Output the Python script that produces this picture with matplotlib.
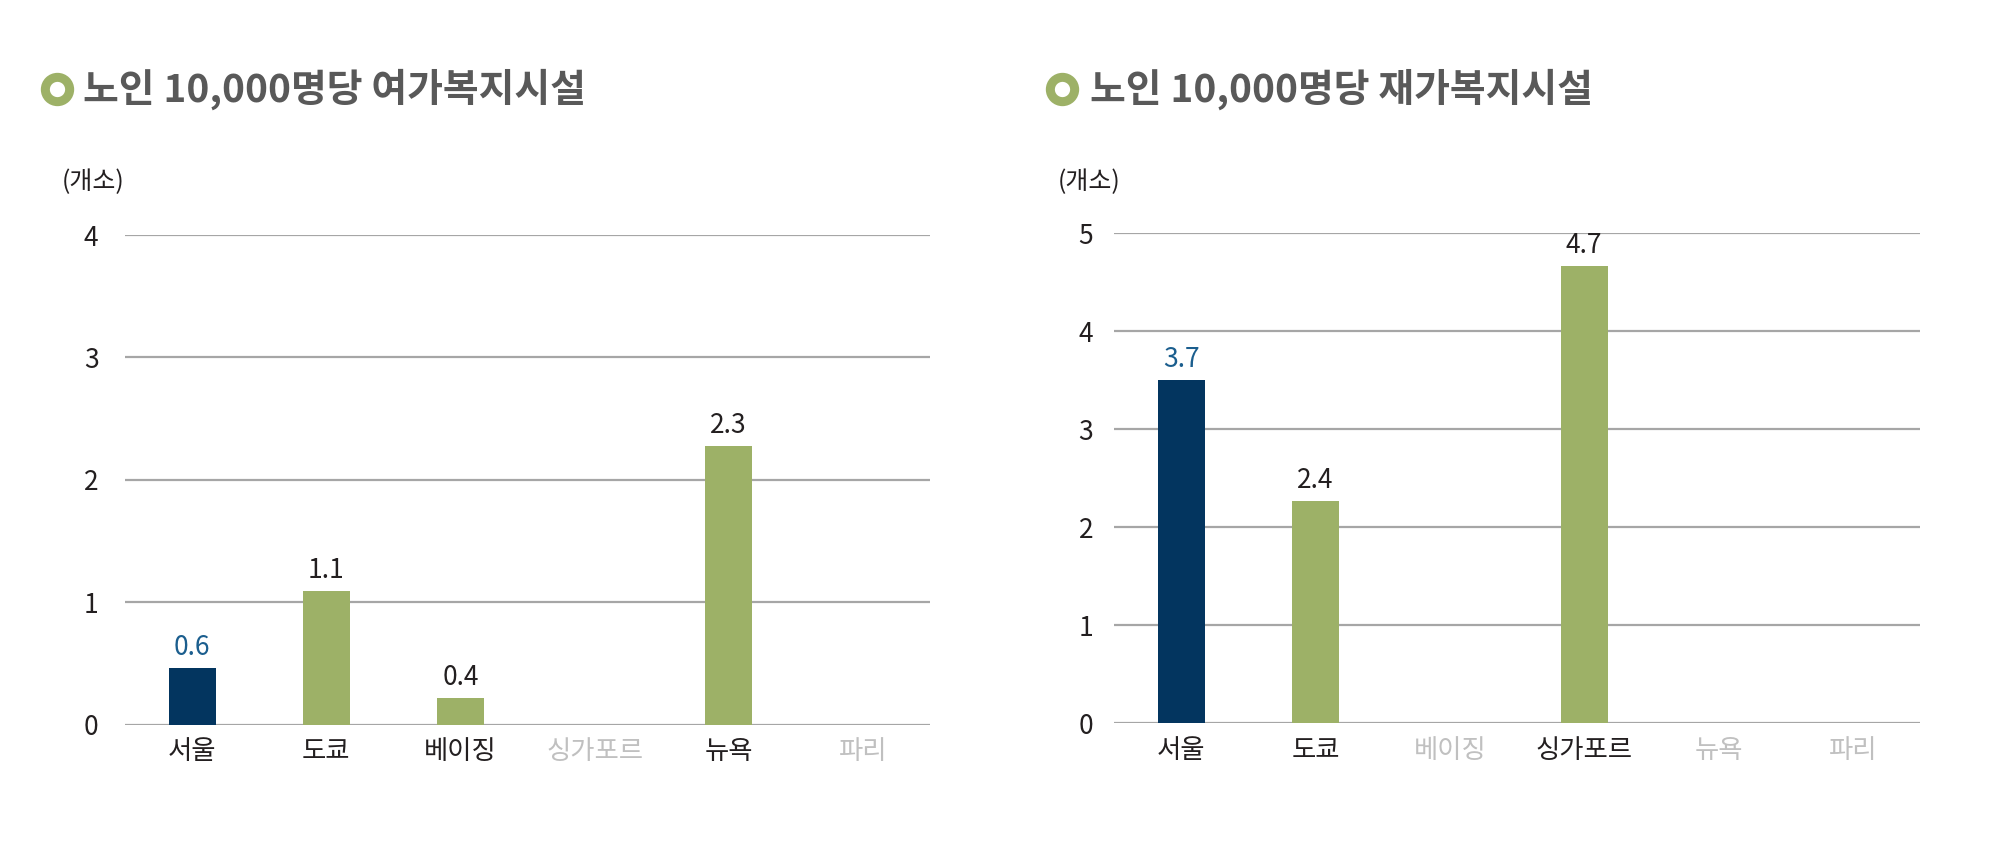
import matplotlib.pyplot as plt
from matplotlib.lines import Line2D

plt.rcParams['font.family'] = ['Noto Sans CJK KR', 'DejaVu Sans']

# data
cities = ['서울', '도쿄', '베이징', '싱가포르', '뉴욕', '파리']

day_vals = [0.46, 1.09, 0.22, 0, 2.28, 0]          # bar heights as drawn
day_labels = ['0.6', '1.1', '0.4', '', '2.3', '']   # printed values
day_has = [True, True, True, False, True, False]

stay_vals = [3.5, 2.27, 0, 4.67, 0, 0]
stay_labels = ['3.7', '2.4', '', '4.7', '', '']
stay_has = [True, True, False, True, False, False]

NAVY = '#03355f'
GREEN = '#9db167'
LBLUE = '#1b5e8e'
GRID = '#a6a6a6'
DARK = '#231f20'
LIGHT = '#c0c0c0'
TITLE = '#595959'

fig = plt.figure(figsize=(20, 8.41), dpi=100)


def panel(rect, vals, labels, has, ymax, title, bullet_x, title_x, unit_x, tick_pad):
    ax = fig.add_axes(rect)
    x = range(len(cities))
    colors = [NAVY if i == 0 else GREEN for i in x]
    ax.bar(x, vals, width=0.35, color=colors, zorder=3)
    for i, (v, lab) in enumerate(zip(vals, labels)):
        if lab:
            ax.annotate(lab, (i, v), xytext=(0, 5), textcoords='offset points',
                        ha='center', va='bottom', fontsize=19,
                        color=LBLUE if i == 0 else DARK)
    ax.set_xlim(-0.5, len(cities) - 0.5)
    ax.set_ylim(0, ymax)
    ax.set_yticks(range(ymax + 1))
    for y in range(ymax + 1):
        ax.axhline(y, color=GRID, lw=1.6, zorder=1)
    for s in ax.spines.values():
        s.set_visible(False)
    ax.set_xticks(list(x))
    ax.set_xticklabels(cities, fontsize=19)
    for t, h in zip(ax.get_xticklabels(), has):
        t.set_color(DARK if h else LIGHT)
    ax.tick_params(axis='x', length=0, pad=10)
    ax.tick_params(axis='y', length=0, pad=tick_pad, labelsize=19, labelcolor=DARK)

    # title with ring bullet
    fig.add_artist(Line2D([bullet_x], [0.894], transform=fig.transFigure,
                          marker='o', markersize=17.5, markeredgewidth=6.5,
                          markerfacecolor='white', markeredgecolor=GREEN,
                          linestyle='none'))
    fig.text(title_x, 0.894, title, fontsize=28, fontweight='bold',
             color=TITLE, va='center', ha='left')
    fig.text(unit_x, 0.783, '(개소)', fontsize=18, color=DARK, va='center', ha='left')
    return ax


panel([0.0625, 0.1385, 0.4025, 0.582], day_vals, day_labels, day_has, 4,
      '노인 10,000명당 여가복지시설', 0.0287, 0.0415, 0.031, 19)
panel([0.557, 0.140, 0.403, 0.5826], stay_vals, stay_labels, stay_has, 5,
      '노인 10,000명당 재가복지시설', 0.531, 0.545, 0.529, 15)

fig.savefig('out.png', dpi=100)
